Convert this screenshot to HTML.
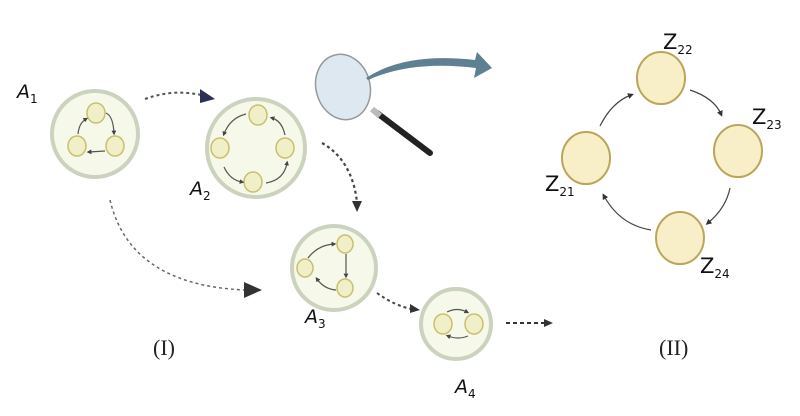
<!DOCTYPE html>
<html><head><meta charset="utf-8"><style>
body{margin:0;background:#fff;width:800px;height:416px;overflow:hidden}
svg{display:block}
.lbl{font-family:"DejaVu Sans","Liberation Sans",sans-serif;font-size:19px;fill:#111}
.zl{font-size:21px}
.sub{font-size:12px}
.rom{font-family:"Liberation Serif",serif;font-size:22px;fill:#222}
</style></head><body>
<svg width="800" height="416" viewBox="0 0 800 416">
<defs>
<marker id="tri" viewBox="0 0 10 10" refX="5" refY="5" markerWidth="5" markerHeight="5" orient="auto"><path d="M0,0L10,5L0,10z" fill="#333"/></marker>
<marker id="tris" viewBox="0 0 10 10" refX="5" refY="5" markerWidth="4" markerHeight="4" orient="auto"><path d="M0,0L10,5L0,10z" fill="#444"/></marker>
</defs>
<g>
<circle cx="95" cy="134" r="43" fill="#f6f8ea" stroke="#cbd3bf" stroke-width="4"/>
<ellipse cx="96" cy="113" rx="9" ry="10" fill="#f1efc8" stroke="#c8bf70" stroke-width="1.5"/>
<ellipse cx="77" cy="146" rx="9" ry="10" fill="#f1efc8" stroke="#c8bf70" stroke-width="1.5"/>
<ellipse cx="115" cy="146" rx="9" ry="10" fill="#f1efc8" stroke="#c8bf70" stroke-width="1.5"/>
<path d="M106,113 Q113,116 114,133" stroke="#555" fill="none" stroke-width="1.2" marker-end="url(#tris)"/>
<path d="M105,151 L89,152" stroke="#555" fill="none" stroke-width="1.2" marker-end="url(#tris)"/>
<path d="M78,134 Q79,123 86,119" stroke="#555" fill="none" stroke-width="1.2" marker-end="url(#tris)"/>
</g>
<text class="lbl" x="17" y="98"><tspan font-style="italic">A</tspan><tspan class="sub" dy="5">1</tspan></text>
<g>
<circle cx="256" cy="148" r="49" fill="#f6f8ea" stroke="#cbd3bf" stroke-width="4"/>
<ellipse cx="258" cy="115" rx="9" ry="10" fill="#f1efc8" stroke="#c8bf70" stroke-width="1.5"/>
<ellipse cx="220" cy="148" rx="9" ry="10" fill="#f1efc8" stroke="#c8bf70" stroke-width="1.5"/>
<ellipse cx="285" cy="148" rx="9" ry="10" fill="#f1efc8" stroke="#c8bf70" stroke-width="1.5"/>
<ellipse cx="253" cy="182" rx="9" ry="10" fill="#f1efc8" stroke="#c8bf70" stroke-width="1.5"/>
<path d="M246,114 Q230,118 224,134" stroke="#555" fill="none" stroke-width="1.2" marker-end="url(#tris)"/>
<path d="M224,167 Q230,180 242,182" stroke="#555" fill="none" stroke-width="1.2" marker-end="url(#tris)"/>
<path d="M266,183 Q284,180 287,163" stroke="#555" fill="none" stroke-width="1.2" marker-end="url(#tris)"/>
<path d="M285,135 Q282,121 272,118" stroke="#555" fill="none" stroke-width="1.2" marker-end="url(#tris)"/>
</g>
<text class="lbl" x="190" y="195"><tspan font-style="italic">A</tspan><tspan class="sub" dy="5">2</tspan></text>
<g>
<circle cx="334" cy="268" r="42" fill="#f6f8ea" stroke="#cbd3bf" stroke-width="4"/>
<ellipse cx="345" cy="244" rx="8" ry="9" fill="#f1efc8" stroke="#c8bf70" stroke-width="1.5"/>
<ellipse cx="305" cy="268" rx="8" ry="9" fill="#f1efc8" stroke="#c8bf70" stroke-width="1.5"/>
<ellipse cx="345" cy="288" rx="8" ry="9" fill="#f1efc8" stroke="#c8bf70" stroke-width="1.5"/>
<path d="M308,258 Q318,245 334,244" stroke="#555" fill="none" stroke-width="1.2" marker-end="url(#tris)"/>
<path d="M346,254 L346,276" stroke="#555" fill="none" stroke-width="1.2" marker-end="url(#tris)"/>
<path d="M336,290 Q324,289 317,279" stroke="#555" fill="none" stroke-width="1.2" marker-end="url(#tris)"/>
</g>
<text class="lbl" x="305" y="323"><tspan font-style="italic">A</tspan><tspan class="sub" dy="5">3</tspan></text>
<g>
<circle cx="456" cy="324" r="35" fill="#f6f8ea" stroke="#cbd3bf" stroke-width="4"/>
<ellipse cx="443" cy="324" rx="9" ry="10" fill="#f1efc8" stroke="#c8bf70" stroke-width="1.5"/>
<ellipse cx="474" cy="324" rx="9" ry="10" fill="#f1efc8" stroke="#c8bf70" stroke-width="1.5"/>
<path d="M447,312 Q457,307 467,312" stroke="#555" fill="none" stroke-width="1.2" marker-end="url(#tris)"/>
<path d="M468,336 Q458,340 448,336" stroke="#555" fill="none" stroke-width="1.2" marker-end="url(#tris)"/>
</g>
<text class="lbl" x="455" y="393"><tspan font-style="italic">A</tspan><tspan class="sub" dy="5">4</tspan></text>
<path d="M145,99 Q175,88 205,96" stroke="#555" stroke-width="2" stroke-dasharray="3,3" fill="none"/>
<path d="M200,89 L215,99 L200,103z" fill="#2d2f55"/>
<path d="M322,143 Q352,160 357,202" stroke="#444" stroke-width="2.2" stroke-dasharray="3,3" fill="none"/>
<path d="M352,201 L362,201 L357,212z" fill="#333"/>
<path d="M110,200 Q130,285 245,290" stroke="#666" stroke-width="1.5" stroke-dasharray="3,3" fill="none"/>
<path d="M244,282 L262,290 L244,298z" fill="#333"/>
<path d="M377,293 Q395,306 412,309" stroke="#444" stroke-width="2" stroke-dasharray="3,3" fill="none"/>
<path d="M410,304 L420,310 L410,313z" fill="#333"/>
<path d="M506,323 L545,323" stroke="#333" stroke-width="2" stroke-dasharray="4,3" fill="none"/>
<path d="M544,319 L553,323 L544,327z" fill="#333"/>
<g>
<line x1="377" y1="113" x2="430" y2="153" stroke="#222" stroke-width="6" stroke-linecap="round"/>
<line x1="372" y1="109" x2="380" y2="116" stroke="#bbb" stroke-width="6"/>
<ellipse cx="343" cy="87" rx="27" ry="33" transform="rotate(-15 343 87)" fill="#dde8f0" stroke="#999" stroke-width="1.5"/>
<path d="M366,78 Q405,52 475,60 L477,52 L492,68 L474,78 L476,68 Q412,60 368,80z" fill="#5f7f92"/>
</g>
<g>
<ellipse cx="661" cy="78" rx="24" ry="26" fill="#f8efc8" stroke="#b9a65a" stroke-width="2"/>
<ellipse cx="738" cy="151" rx="24" ry="26" fill="#f8efc8" stroke="#b9a65a" stroke-width="2"/>
<ellipse cx="586" cy="158" rx="24" ry="26" fill="#f8efc8" stroke="#b9a65a" stroke-width="2"/>
<ellipse cx="680" cy="238" rx="24" ry="26" fill="#f8efc8" stroke="#b9a65a" stroke-width="2"/>
<path d="M690,90 Q714,98 721,114" stroke="#444" stroke-width="1.2" fill="none" marker-end="url(#tri)"/>
<path d="M730,188 Q726,208 708,223" stroke="#444" stroke-width="1.2" fill="none" marker-end="url(#tri)"/>
<path d="M651,230 Q620,225 604,196" stroke="#444" stroke-width="1.2" fill="none" marker-end="url(#tri)"/>
<path d="M600,126 Q612,102 631,95" stroke="#444" stroke-width="1.2" fill="none" marker-end="url(#tri)"/>
</g>
<text class="lbl zl" x="663" y="49">Z<tspan class="sub" dy="5">22</tspan></text>
<text class="lbl zl" x="752" y="124">Z<tspan class="sub" dy="5">23</tspan></text>
<text class="lbl zl" x="545" y="191">Z<tspan class="sub" dy="5">21</tspan></text>
<text class="lbl zl" x="700" y="273">Z<tspan class="sub" dy="5">24</tspan></text>
<text class="rom" x="153" y="355">(I)</text>
<text class="rom" x="659" y="355">(II)</text>
</svg>
</body></html>
